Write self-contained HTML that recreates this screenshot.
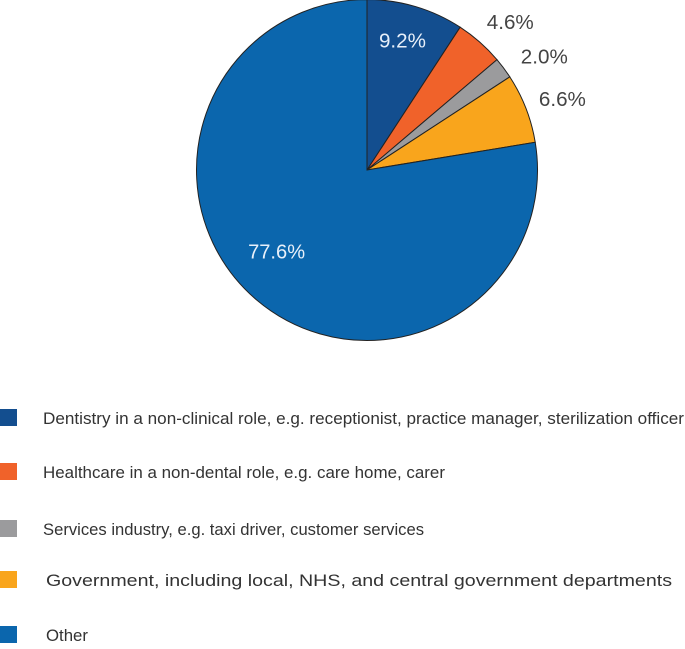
<!DOCTYPE html>
<html><head><meta charset="utf-8"><style>
html,body{margin:0;padding:0;background:#fff;}
svg{display:block;font-family:"Liberation Sans",sans-serif;}
</style></head><body>
<svg id="chart" width="685" height="649" viewBox="0 0 685 649">
<g id="slices"></g><g id="labels"></g><g id="legend"></g>
</svg>
<script>
const categories = ["Dentistry in a non-clinical role, e.g. receptionist, practice manager, sterilization officer","Healthcare in a non-dental role, e.g. care home, carer","Services industry, e.g. taxi driver, customer services","Government, including local, NHS, and central government departments","Other"];
const values = [9.2, 4.6, 2.0, 6.6, 77.6];
const valueLabels = ["9.2%","4.6%","2.0%","6.6%","77.6%"];
const colors = ["#134e8f","#f0622a","#9b9b9d","#f9a51c","#0b66ad"];
const NS="http://www.w3.org/2000/svg";
const cx=367, cy=170, r=170.5;
const total=values.reduce((a,b)=>a+b,0);
function pt(frac,rad){const a=frac*2*Math.PI;return [cx+rad*Math.sin(a), cy-rad*Math.cos(a)];}
const gS=document.getElementById('slices'), gL=document.getElementById('labels'), gG=document.getElementById('legend');
const labDx=[-3,11,17,-5,4], labDy=[-13,2,6,7,-12];
let cum=0;
values.forEach((v,i)=>{
  const f0=cum/total, f1=(cum+v)/total; cum+=v;
  const p0=pt(f0,r), p1=pt(f1,r), large=(f1-f0)>0.5?1:0;
  const p=document.createElementNS(NS,'path');
  p.setAttribute('d',`M${cx},${cy}L${p0[0]},${p0[1]}A${r},${r} 0 ${large} 1 ${p1[0]},${p1[1]}Z`);
  p.setAttribute('fill',colors[i]);p.setAttribute('stroke','#222');p.setAttribute('stroke-width','1');
  
  
  gS.appendChild(p);
  const mid=(f0+f1)/2;
  let lx,ly,col;
  if(i===0){const q=pt(mid,135);lx=q[0];ly=q[1]+20;col='#e8f0fa';}
  else if(i===4){const q=pt(mid,115);lx=q[0]-20;ly=q[1]+13;col='#e8f0fa';}
  else {const rad=[0,200,200,215][i]; const q=pt(mid,rad); lx=q[0]; ly=q[1]+7; col='#444';}
  const t=document.createElementNS(NS,'text');
  t.setAttribute('x',lx+labDx[i]);t.setAttribute('y',ly+labDy[i]);t.setAttribute('text-anchor','middle');
  t.setAttribute('font-size','20');t.setAttribute('fill',col);
  t.setAttribute('textLength',valueLabels[i].length>4?57:47);t.setAttribute('lengthAdjust','spacingAndGlyphs');
  t.textContent=valueLabels[i];
  
  
  gL.appendChild(t);
});
const rowY=[418,472,529,580,635];
const textW=[641,402,381,626,42];
const textX=[43,43,43,46,46];
categories.forEach((c,i)=>{
  const g=document.createElementNS(NS,'g');
  
  
  const s=document.createElementNS(NS,'rect');
  s.setAttribute('x',0);s.setAttribute('y',rowY[i]-9);s.setAttribute('width',17);s.setAttribute('height',17);
  s.setAttribute('fill',colors[i]);
  
  
  const t=document.createElementNS(NS,'text');
  t.setAttribute('x',textX[i]);t.setAttribute('y',rowY[i]+6);t.setAttribute('font-size','17');t.setAttribute('fill','#333');
  t.setAttribute('textLength',textW[i]);t.setAttribute('lengthAdjust','spacingAndGlyphs');
  t.textContent=c;
  
  
  g.appendChild(s);g.appendChild(t);gG.appendChild(g);
});
</script>
</body></html>
